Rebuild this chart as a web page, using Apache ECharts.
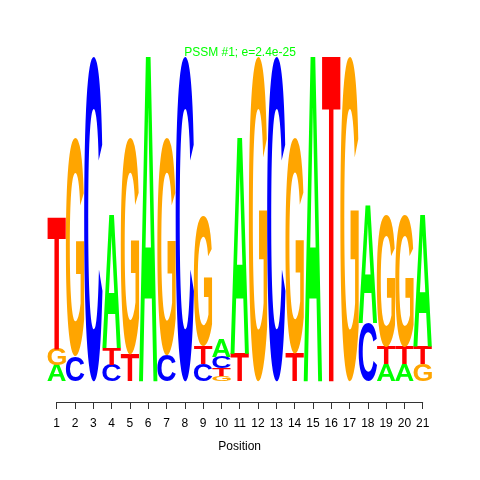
<!DOCTYPE html>
<html><head><meta charset="utf-8">
<script src="https://cdn.jsdelivr.net/npm/echarts@6/dist/echarts.min.js"></script>
<style>html,body{margin:0;padding:0;background:#fff}#c{width:480px;height:480px}</style>
</head><body><div id="c"></div>
<script>
// Sequence logo data: letters stacked bottom-to-top per position, heights in bits
const positions = [1,2,3,4,5,6,7,8,9,10,11,12,13,14,15,16,17,18,19,20,21];
const stackLetters = ["AGT","CG","C","CTA","TG","A","CG","C","CTG","GTCA","TA","G","C","TG","A","T","G","CA","ATG","ATG","GTA"];
const stackHeights = [
  [0.10,0.10,0.81],
  [0.155,1.345],
  [2.0],
  [0.10,0.105,0.815],
  [0.165,1.335],
  [2.0],
  [0.16,1.34],
  [2.0],
  [0.105,0.11,0.80],
  [0.03,0.05,0.07,0.11],
  [0.17,1.33],
  [2.0],
  [2.0],
  [0.17,1.33],
  [2.0],
  [2.0],
  [2.0],
  [0.36,0.725],
  [0.105,0.107,0.81],
  [0.105,0.107,0.81],
  [0.105,0.107,0.81]
];
const letterColors = {A:'#00ff00', C:'#0000ff', G:'#ffa500', T:'#ff0000'};
const titleText = 'PSSM #1; e=2.4e-25';
const axisName = 'Position';

const FAMILY = 'Liberation Sans';
const FS = 400;
const FONT = 'bold ' + FS + 'px "' + FAMILY + '"';
// measure real ink bounds of each glyph by scanning pixels
const metrics = {};
(function () {
  const W = FS * 2, H = FS * 2, ox = FS / 2, oy = FS;
  const cv = document.createElement('canvas');
  cv.width = W; cv.height = H;
  const c = cv.getContext('2d');
  for (const L of 'ACGT') {
    c.clearRect(0, 0, W, H);
    c.font = FONT; c.textBaseline = 'middle'; c.textAlign = 'left'; c.fillStyle = '#000';
    c.fillText(L, ox, oy);
    const d = c.getImageData(0, 0, W, H).data;
    let minX = W, maxX = -1, minY = H, maxY = -1;
    for (let y = 0; y < H; y++) {
      for (let x = 0; x < W; x++) {
        if (d[(y * W + x) * 4 + 3] > 127) {
          if (x < minX) minX = x; if (x > maxX) maxX = x;
          if (y < minY) minY = y; if (y > maxY) maxY = y;
        }
      }
    }
    metrics[L] = {l: ox - minX, r: maxX + 1 - ox, a: oy - minY, d: maxY + 1 - oy};
  }
})();

const chart = echarts.init(document.getElementById('c'), null, {renderer: 'canvas'});
chart.setOption({
  animation: false,
  backgroundColor: '#fff',
  title: {
    text: titleText, left: 'center', top: 42,
    textStyle: {color: '#00ff00', fontSize: 12, fontWeight: 'normal', fontFamily: FAMILY}
  },
  grid: {left: 56.7, right: 57.3, top: 57, bottom: 99},
  xAxis: {
    type: 'value', min: 1, max: 21, interval: 1, offset: 21,
    axisLine: {show: true, onZero: false, lineStyle: {color: '#333', width: 1}},
    axisTick: {show: true, length: 7, lineStyle: {color: '#333'}},
    axisLabel: {margin: 16, color: '#000', fontSize: 12, fontFamily: FAMILY},
    splitLine: {show: false},
    name: axisName, nameLocation: 'middle', nameGap: 39,
    nameTextStyle: {color: '#000', fontSize: 12, fontFamily: FAMILY}
  },
  yAxis: {type: 'value', min: 0, max: 2, show: false},
  series: [{
    type: 'custom', clip: false, silent: true,
    encode: {x: 0, y: 1},
    data: positions.map((p, i) => [p, stackHeights[i].reduce((a, b) => a + b, 0)]),
    renderItem: function (params, api) {
      const i = params.dataIndex;
      const pos = api.value(0);
      const letters = stackLetters[i], hs = stackHeights[i];
      let cum = 0;
      const children = [];
      for (let k = 0; k < letters.length; k++) {
        const L = letters[k], h = hs[k];
        const p0 = api.coord([pos - 0.5, cum]);
        const p1 = api.coord([pos + 0.5, cum + h]);
        cum += h;
        const bx = p0[0], bw = p1[0] - p0[0], by = p1[1], bh = p0[1] - p1[1];
        if (bh <= 0) continue;
        const m = metrics[L];
        const sx = bw / (m.l + m.r), sy = bh / (m.a + m.d);
        children.push({
          type: 'text',
          x: bx + sx * m.l, y: by + sy * m.a, scaleX: sx, scaleY: sy,
          style: {text: L, fill: letterColors[L], font: FONT, align: 'left', verticalAlign: 'middle'}
        });
      }
      return {type: 'group', children: children};
    }
  }]
});
</script>
</body></html>
